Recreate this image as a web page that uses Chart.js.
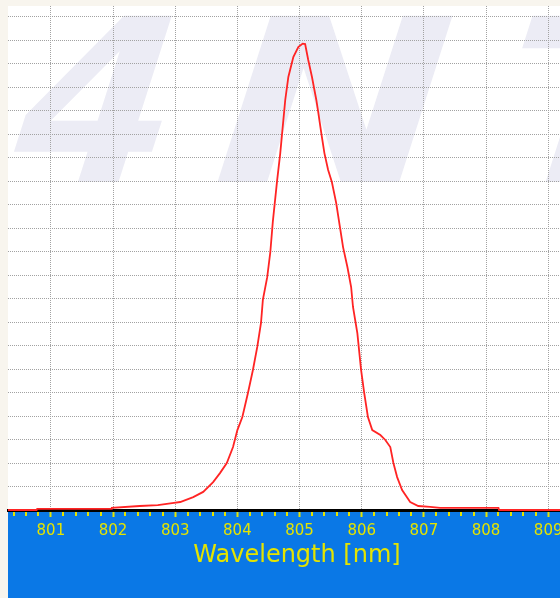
<!DOCTYPE html>
<html>
<head>
<meta charset="utf-8">
<script src="https://cdn.jsdelivr.net/npm/chart.js@4.4.1/dist/chart.umd.min.js"></script>
<style>
  html, body { margin: 0; padding: 0; background: #f8f5ee; overflow: hidden; }
  #wrap { width: 560px; height: 598px; }
</style>
</head>
<body>
<div id="wrap"><canvas id="specChart"></canvas></div>
<script>
// spectrum (nm / counts in grid units)
const wavelength = [
  800.31, 800.77, 800.78, 801.97, 801.98, 802.43, 802.72, 802.98, 803.08, 803.29,
  803.45, 803.61, 803.72, 803.83, 803.93, 804.00, 804.08, 804.17, 804.25, 804.32,
  804.38, 804.41, 804.48, 804.53, 804.57, 804.64, 804.69, 804.72, 804.77, 804.82,
  804.90, 804.98, 805.05, 805.09, 805.14, 805.20, 805.27, 805.30, 805.35, 805.40,
  805.46, 805.52, 805.59, 805.65, 805.70, 805.77, 805.83, 805.86, 805.93, 805.99,
  806.04, 806.10, 806.17, 806.30, 806.38, 806.46, 806.51, 806.57, 806.65, 806.78,
  806.91, 807.10, 807.26, 808.20, 808.21, 809.19
];
const intensity = [
  0.00, 0.00, 0.05, 0.05, 0.09, 0.17, 0.21, 0.30, 0.34, 0.55,
  0.77, 1.19, 1.57, 2.00, 2.68, 3.40, 3.96, 4.98, 5.96, 6.94,
  7.96, 8.94, 9.91, 10.98, 12.26, 14.04, 15.19, 16.04, 17.45, 18.43,
  19.28, 19.70, 19.85, 19.83, 19.15, 18.43, 17.45, 16.94, 16.04, 15.19,
  14.47, 13.96, 13.06, 12.04, 11.19, 10.34, 9.49, 8.64, 7.53, 5.96,
  4.98, 3.96, 3.40, 3.19, 2.98, 2.68, 2.00, 1.40, 0.85, 0.34,
  0.17, 0.13, 0.09, 0.09, 0.00, 0.00
];
const xTickValues = [801, 802, 803, 804, 805, 806, 807, 808, 809];
const yGridValues = [1, 2, 3, 4, 5, 6, 7, 8, 9, 10, 11, 12, 13, 14, 15, 16, 17, 18, 19, 20, 21];
const xTitle = 'Wavelength [nm]';

const BLUE = '#0a78e6';
const YELLOW = '#e4e400';
const GRID = '#a2a2a2';

const backdrop = {
  id: 'backdrop',
  beforeDraw(chart) {
    const { ctx, chartArea: a, width, height } = chart;
    ctx.save();
    ctx.fillStyle = '#f8f5ee';
    ctx.fillRect(0, 0, width, height);
    ctx.fillStyle = '#ffffff';
    ctx.fillRect(a.left, a.top, width - a.left, a.bottom - a.top);
    ctx.fillStyle = BLUE;
    ctx.fillRect(a.left, a.bottom, width - a.left, height - a.bottom);

    // faint logo watermark behind the grid
    ctx.beginPath();
    ctx.rect(a.left, a.top, width - a.left, a.bottom - a.top);
    ctx.clip();
    ctx.fillStyle = '#ececf5';
    ctx.font = 'bold 228px "DejaVu Sans"';
    ctx.textBaseline = 'alphabetic';
    [['4', -6, 1.0], ['N', 192, 1.22], ['T', 478, 1.2]].forEach(([ch, x, sx]) => {
      ctx.save();
      ctx.transform(sx, 0, -0.32, 1, x, 182);
      ctx.fillText(ch, 0, 0);
      ctx.restore();
    });
    ctx.restore();
  },
  afterDraw(chart) {
    const { ctx, chartArea: a } = chart;
    const xs = chart.scales.x;
    ctx.save();
    // minor tick marks every 0.2 nm
    ctx.strokeStyle = YELLOW;
    ctx.lineWidth = 2;
    for (let k = Math.ceil(xs.min * 5); k <= Math.floor(xs.max * 5); k++) {
      if (k % 5 === 0) continue;
      const px = Math.round(xs.getPixelForValue(k / 5));
      ctx.beginPath();
      ctx.moveTo(px, a.bottom + 2);
      ctx.lineTo(px, a.bottom + 6);
      ctx.stroke();
    }
    // axis title
    ctx.fillStyle = YELLOW;
    ctx.font = '24px "DejaVu Sans"';
    ctx.textAlign = 'center';
    ctx.textBaseline = 'middle';
    ctx.fillText(xTitle, 297, 556);
    ctx.restore();
  }
};

new Chart(document.getElementById('specChart'), {
  type: 'line',
  data: {
    datasets: [{
      data: wavelength.map((x, i) => ({ x: x, y: intensity[i] })),
      borderColor: '#ff2424',
      borderWidth: 1.8,
      pointRadius: 0,
      tension: 0,
      fill: false,
      clip: false
    }]
  },
  options: {
    responsive: true,
    maintainAspectRatio: false,
    animation: false,
    layout: { padding: { left: 8, top: 6, right: 0, bottom: 0 } },
    plugins: {
      legend: { display: false },
      tooltip: { enabled: false }
    },
    scales: {
      x: {
        type: 'linear',
        min: 800.31,
        max: 809.19,
        afterBuildTicks: s => { s.ticks = xTickValues.map(v => ({ value: v })); },
        afterFit: s => { s.height = 88; s.paddingLeft = 0; s.paddingRight = 0; },
        grid: {
          color: GRID,
          lineWidth: 1,
          drawTicks: true,
          tickLength: 7,
          tickColor: YELLOW,
          tickWidth: 2,
          tickBorderDash: []
        },
        border: { display: true, color: '#000000', width: 3, dash: [1, 1] },
        ticks: {
          color: YELLOW,
          font: { family: 'DejaVu Sans', size: 15 },
          padding: 5,
          maxRotation: 0,
          autoSkip: false,
          callback: v => String(v)
        }
      },
      y: {
        min: 0,
        max: 21.45,
        afterBuildTicks: s => { s.ticks = yGridValues.map(v => ({ value: v })); },
        afterFit: s => { s.width = 0; s.paddingTop = 0; s.paddingBottom = 0; },
        grid: { color: GRID, lineWidth: 1, drawTicks: false },
        border: { display: false, dash: [1, 1] },
        ticks: { display: false }
      }
    }
  },
  plugins: [backdrop]
});
</script>
</body>
</html>
